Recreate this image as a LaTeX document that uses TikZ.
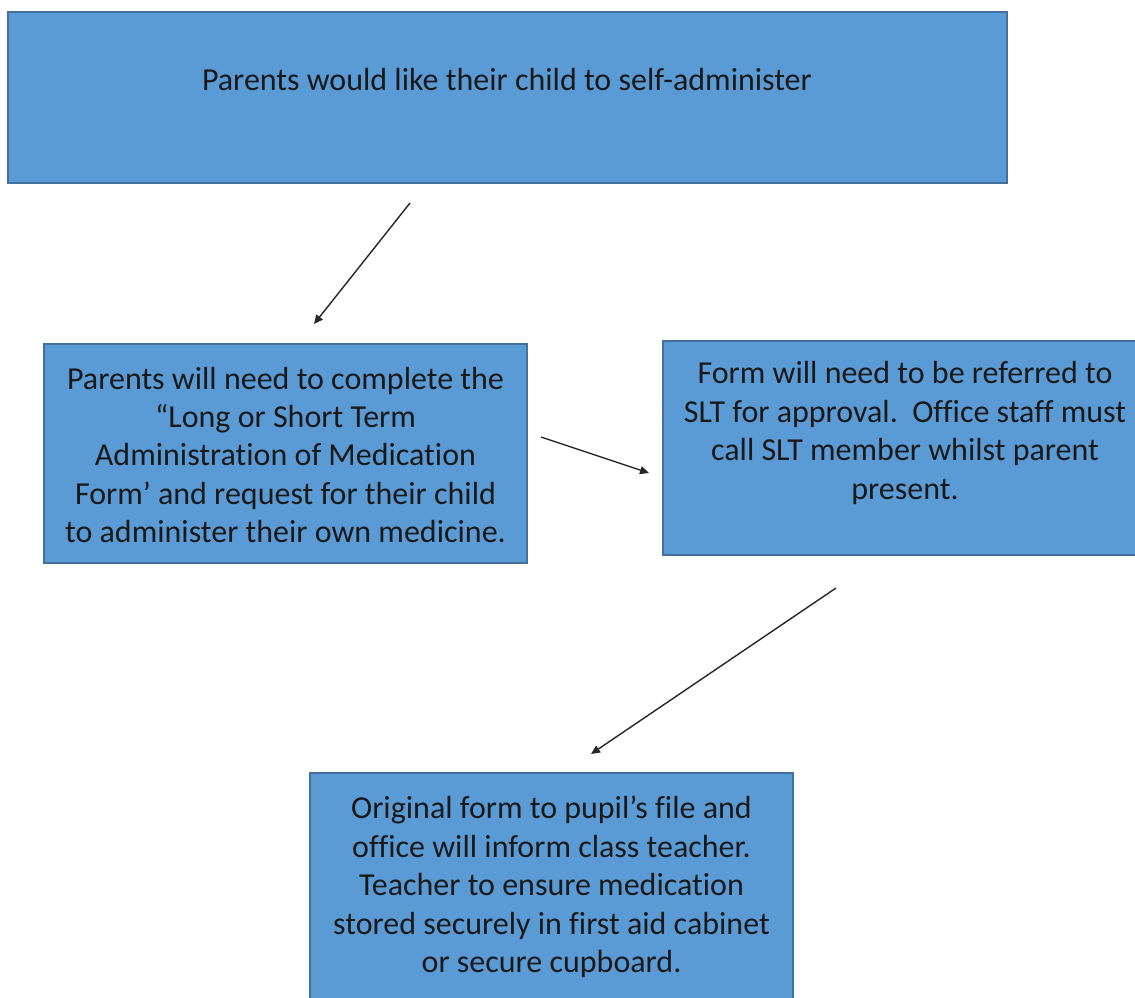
\documentclass[tikz,border=0pt]{standalone}
\usepackage{fontspec}
\setmainfont{Carlito}[Ligatures={NoCommon}]
\usetikzlibrary{arrows.meta}
\definecolor{boxfill}{HTML}{5B9BD5}
\definecolor{boxline}{HTML}{41719C}
\tikzset{
  flowbox/.style={draw=boxline, line width=2pt, fill=boxfill, rectangle, inner sep=0pt},
  flowtext/.style={align=center, inner sep=0pt, text=black!90, font=\fontsize{32}{38.4}\selectfont},
  flowarrow/.style={line width=1.4pt, draw=black!85, -{Triangle[length=9pt,width=8pt]}}
}
\begin{document}
\begin{tikzpicture}[x=1pt,y=-1pt]
\clip (0,0) rectangle (1135,997);
\fill[white] (0,0) rectangle (1135,997);
% boxes
\node[flowbox, minimum width=999pt, minimum height=171pt] (top) at (507.5,97.5) {};
\node[flowbox, minimum width=483pt, minimum height=219pt] (left) at (285.5,453.5) {};
\node[flowbox, minimum width=484pt, minimum height=214pt] (right) at (905,448) {};
\node[flowbox, minimum width=483pt, minimum height=250pt] (bottom) at (551.5,898) {};
% texts
\node[flowtext] (toptext) at (507,80) {Parents would like their child to self-administer};
\node[flowtext] (lefttext) at (285.5,455) {Parents will need to complete the\\“Long or Short Term\\Administration of Medication\\Form’ and request for their child\\to administer their own medicine.};
\node[flowtext] (righttext) at (905,433) {Form will need to be referred to\\SLT for approval.\ \ Office staff must\\call SLT member whilst parent\\present.};
\node[flowtext] (bottomtext) at (551.5,887) {Original form to pupil’s file and\\office will inform class teacher.\\Teacher to ensure medication\\stored securely in first aid cabinet\\or secure cupboard.};
% arrow ends
\coordinate (a1s) at (410,203);
\coordinate (a1e) at (314,324);
\coordinate (a2s) at (541,437);
\coordinate (a2e) at (649,473);
\coordinate (a3s) at (836,588);
\coordinate (a3e) at (591,754);
\draw[flowarrow] (a1s) -- (a1e);
\draw[flowarrow] (a2s) -- (a2e);
\draw[flowarrow] (a3s) -- (a3e);
\end{tikzpicture}
\end{document}
